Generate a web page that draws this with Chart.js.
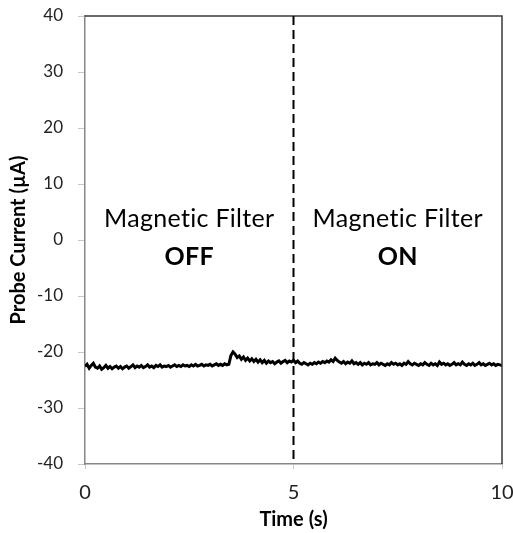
<!DOCTYPE html>
<html>
<head>
<meta charset="utf-8">
<script src="https://cdn.jsdelivr.net/npm/chart.js@4"></script>
<style>
  html, body { margin: 0; padding: 0; background: #fff; }
  #wrap { width: 513px; height: 533px; }
</style>
</head>
<body>
<div id="wrap"><canvas id="myChart"></canvas></div>
<script>
// probe current trace (µA), one sample every 0.05 s from 0 to 10 s
const sampleStep = 0.05;
const current = [
  -22.6, -22.2, -22.9, -22.4, -22.0, -22.7, -22.9, -22.5, -23.1, -22.8, -22.4, -22.9, -22.6, -23.0, -22.7, -22.5, -22.9, -22.6, -23.0, -22.7,
  -22.5, -22.9, -22.6, -22.3, -22.8, -22.5, -22.7, -22.4, -22.8, -22.6, -22.3, -22.7, -22.5, -22.8, -22.4, -22.6, -22.3, -22.7, -22.5, -22.6,
  -22.4, -22.7, -22.5, -22.3, -22.6, -22.4, -22.6, -22.3, -22.5, -22.4, -22.6, -22.3, -22.5, -22.2, -22.5, -22.4, -22.2, -22.5, -22.3, -22.4,
  -22.2, -22.5, -22.3, -22.1, -22.4, -22.2, -22.4, -22.1, -22.3, -22.2, -20.6, -20.0, -20.4, -21.0, -20.7, -21.3, -20.9, -21.5, -21.1, -21.6,
  -21.2, -21.7, -21.3, -21.8, -21.4, -21.9, -21.5, -22.0, -21.6, -21.9, -21.7, -22.1, -21.8, -21.6, -22.0, -21.7, -21.5, -21.9, -21.6, -21.8,
  -21.5, -21.9, -21.6, -22.0, -22.2, -21.9, -22.1, -22.3, -22.0, -22.2, -21.9, -22.1, -21.8, -22.0, -21.7, -21.9, -21.6, -21.8, -21.4, -21.7,
  -21.1, -21.5, -21.8, -22.0, -21.7, -22.1, -21.8, -22.0, -21.6, -22.1, -21.9, -22.2, -21.9, -22.3, -22.0, -22.2, -21.9, -22.3, -22.1, -22.2,
  -21.9, -22.3, -22.0, -22.2, -22.4, -22.1, -22.3, -21.9, -22.2, -22.0, -22.3, -22.1, -22.4, -22.0, -22.2, -21.7, -22.1, -22.3, -22.0, -22.2,
  -22.4, -22.1, -22.3, -21.9, -22.2, -22.4, -22.0, -22.3, -22.1, -22.4, -21.8, -22.2, -22.0, -22.3, -22.1, -22.4, -22.2, -21.9, -22.3, -22.1,
  -22.3, -21.8, -22.2, -22.4, -22.1, -22.3, -22.0, -22.4, -22.2, -21.9, -22.3, -22.1, -22.4, -22.2, -22.0, -22.3, -22.1, -22.4, -22.2, -22.3,
  -22.4
];
const times = current.map((_, i) => +(i * sampleStep).toFixed(2));

const xTicks = [0, 5, 10];
const yTicks = [-40, -30, -20, -10, 0, 10, 20, 30, 40];

const switchTime = 5;
const captionTop = 'Magnetic Filter';
const stateLabels = ['OFF', 'ON'];

const FONT = 'Lato, "Open Sans", sans-serif';

// frame on top/right, dashed switch line and the OFF/ON captions
const decorations = {
  id: 'decorations',
  afterDatasetsDraw(chart) {
    const { ctx, chartArea: a, scales: { x, y } } = chart;
    ctx.save();
    ctx.strokeStyle = '#3a3a3a';
    ctx.lineWidth = 1.5;
    ctx.beginPath();
    ctx.moveTo(a.left, a.top);
    ctx.lineTo(a.right, a.top);
    ctx.lineTo(a.right, a.bottom);
    ctx.stroke();

    const xs = x.getPixelForValue(switchTime);
    ctx.strokeStyle = '#000';
    ctx.lineWidth = 2;
    ctx.setLineDash([9, 5]);
    ctx.beginPath();
    ctx.moveTo(xs, a.top);
    ctx.lineTo(xs, a.bottom);
    ctx.stroke();
    ctx.setLineDash([]);

    ctx.fillStyle = '#000';
    ctx.textAlign = 'center';
    ctx.textBaseline = 'alphabetic';
    ctx.letterSpacing = '0.3px';
    [2.5, 7.5].forEach((t, i) => {
      const px = x.getPixelForValue(t);
      ctx.font = '25px ' + FONT;
      ctx.fillText(captionTop, px, y.getPixelForValue(2.3));
      ctx.font = 'bold 25px ' + FONT;
      ctx.fillText(stateLabels[i], px, y.getPixelForValue(-4.5));
    });
    ctx.restore();
  }
};

new Chart(document.getElementById('myChart'), {
  type: 'line',
  data: {
    labels: times,
    datasets: [{
      data: times.map((t, i) => ({ x: t, y: current[i] })),
      borderColor: '#000',
      borderWidth: 3,
      pointRadius: 0,
      tension: 0
    }]
  },
  options: {
    responsive: true,
    maintainAspectRatio: false,
    animation: false,
    layout: { padding: { top: 16, right: 11, left: 0, bottom: 0 } },
    plugins: { legend: { display: false }, tooltip: { enabled: false } },
    scales: {
      x: {
        type: 'linear',
        min: 0,
        max: 10,
        afterFit: s => { s.height = 69; s.paddingLeft = 0; s.paddingRight = 0; },
        afterBuildTicks: s => { s.ticks = xTicks.map(v => ({ value: v })); },
        ticks: { color: '#222', font: { family: FONT, size: 20 }, padding: 12, maxRotation: 0 },
        grid: { drawOnChartArea: false, tickLength: 5, color: '#c8c8c8' },
        border: { color: '#868686', width: 1.5 },
        title: { display: true, text: 'Time (s)', color: '#000', font: { family: FONT, size: 20, weight: 'bold' }, padding: { top: 0, bottom: 1 } }
      },
      y: {
        min: -40,
        max: 40,
        afterFit: s => { s.width = 85; s.paddingTop = 0; s.paddingBottom = 0; },
        afterBuildTicks: s => { s.ticks = yTicks.map(v => ({ value: v })); },
        ticks: { color: '#222', font: { family: FONT, size: 17 }, padding: 15 },
        grid: { drawOnChartArea: false, tickLength: 7, color: '#c8c8c8' },
        border: { color: '#868686', width: 1.5 },
        title: { display: true, text: 'Probe Current (µA)', color: '#000', font: { family: FONT, size: 20, weight: 'bold' }, padding: { top: 7, bottom: 0 } }
      }
    }
  },
  plugins: [decorations]
});
</script>
</body>
</html>
